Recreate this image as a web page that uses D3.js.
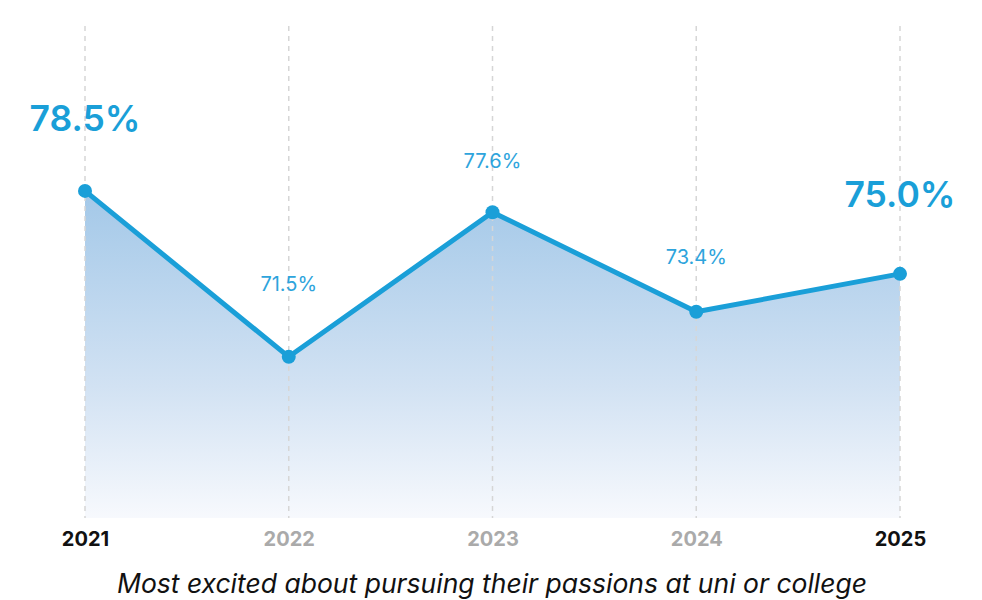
<!DOCTYPE html>
<html>
<head>
<meta charset="utf-8">
<script src="https://cdn.jsdelivr.net/npm/d3@7/dist/d3.min.js"></script>
<style>
  html, body { margin: 0; padding: 0; background: #fff; }
  svg { display: block; font-family: Inter, "Noto Sans", sans-serif; }
</style>
</head>
<body>
<svg id="chart" width="982" height="600"></svg>
<script>
const years = ["2021", "2022", "2023", "2024", "2025"];
const values = [78.5, 71.5, 77.6, 73.4, 75.0];
const labels = ["78.5%", "71.5%", "77.6%", "73.4%", "75.0%"];
const highlighted = [true, false, false, false, true];
const caption = "Most excited about pursuing their passions at uni or college";

const labelOffsets = [60, 66, 44, 48, 67];

const svg = d3.select("#chart");
const blue = "#1a9fd8";

const x = d3.scalePoint().domain(years).range([85, 900]);
const y = d3.scaleLinear().domain([64.7, 85.5]).range([518, 25]);

const defs = svg.append("defs");
const grad = defs.append("linearGradient").attr("id", "areaGrad")
  .attr("gradientUnits", "userSpaceOnUse")
  .attr("x1", 0).attr("x2", 0).attr("y1", y(d3.max(values))).attr("y2", y.range()[0]);
grad.append("stop").attr("offset", "0%").attr("stop-color", "#a3c8e8");
grad.append("stop").attr("offset", "60%").attr("stop-color", "#d2e2f3");
grad.append("stop").attr("offset", "100%").attr("stop-color", "#f7f9fd");

const data = years.map((yr, i) => ({ yr, v: values[i], label: labels[i], hi: highlighted[i], off: labelOffsets[i] }));

// area
const area = d3.area().x(d => x(d.yr)).y0(y.range()[0]).y1(d => y(d.v));
svg.append("path").datum(data).attr("d", area).attr("fill", "url(#areaGrad)");

// gridlines
svg.append("g").selectAll("line").data(years).join("line")
  .attr("x1", d => x(d)).attr("x2", d => x(d))
  .attr("y1", y.range()[1] + 1).attr("y2", y.range()[0])
  .attr("stroke", "#d6d6d6").attr("stroke-width", 1.5)
  .attr("stroke-dasharray", "5,5");

// line
const line = d3.line().x(d => x(d.yr)).y(d => y(d.v));
svg.append("path").datum(data).attr("d", line)
  .attr("fill", "none").attr("stroke", blue).attr("stroke-width", 5)
  .attr("stroke-linejoin", "round");

// dots
svg.append("g").selectAll("circle").data(data).join("circle")
  .attr("cx", d => x(d.yr)).attr("cy", d => y(d.v)).attr("r", 7)
  .attr("fill", blue);

// value labels
svg.append("g").selectAll("text").data(data).join("text")
  .attr("x", d => x(d.yr)).attr("y", d => y(d.v) - d.off)
  .attr("text-anchor", "middle")
  .attr("fill", d => d.hi ? "#1a9fd8" : "#2ea4dc")
  .attr("font-size", d => d.hi ? 35.5 : 20)
  .attr("font-weight", d => d.hi ? 600 : 400)
  .text(d => d.label);

// x axis labels
const xAxis = d3.axisBottom(x).tickSize(0).tickPadding(0);
const gx = svg.append("g").attr("transform", `translate(0, ${532})`).call(xAxis);
gx.select(".domain").remove();
gx.selectAll("text")
  .attr("font-family", "Inter, sans-serif")
  .attr("font-size", 20).attr("font-weight", 700)
  .attr("fill", (d, i) => highlighted[i] ? "#111" : "#aaaaaa");

// caption
svg.append("text").attr("x", 492).attr("y", 593)
  .attr("text-anchor", "middle").attr("font-size", 26.5)
  .attr("font-style", "italic").attr("fill", "#111")
  .text(caption);
</script>
</body>
</html>
